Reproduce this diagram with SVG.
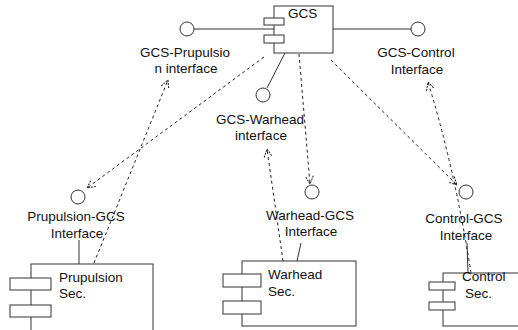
<svg xmlns="http://www.w3.org/2000/svg" width="518" height="330" viewBox="0 0 518 330">
<defs>
<marker id="arr" markerWidth="12" markerHeight="12" refX="10" refY="6" orient="auto" markerUnits="userSpaceOnUse">
<path d="M2,2 L10,6 L2,10" fill="none" stroke="#222" stroke-width="1" stroke-dasharray="2 1"/>
</marker>
<style>
.box{fill:#fff;stroke:#333;stroke-width:1}
.port{fill:#fff;stroke:#333;stroke-width:1}
.lol{fill:#fff;stroke:#333;stroke-width:1}
.sol{fill:none;stroke:#333;stroke-width:1}
.dep{fill:none;stroke:#222;stroke-width:1;stroke-dasharray:3 3;marker-end:url(#arr)}
text{font-family:"Liberation Sans",Arial,sans-serif;font-size:13.5px;fill:#111}
.c{text-anchor:middle}
</style>
</defs>
<rect width="518" height="330" fill="#fff"/>

<g id="connectors">
<line class="sol" x1="194" y1="29" x2="274" y2="29"/>
<line class="sol" x1="333" y1="29" x2="411" y2="29"/>
<line class="sol" x1="285" y1="53" x2="267" y2="88"/>
<line class="sol" x1="79" y1="240" x2="79" y2="264"/>
<line class="sol" x1="301" y1="243" x2="297" y2="261"/>
<line class="sol" x1="467" y1="243" x2="468" y2="273"/>
<path class="dep" d="M264,57 L87,188"/>
<path class="dep" d="M94,263 L168,80"/>
<path class="dep" d="M299,54 L310,184"/>
<path class="dep" d="M283,261 L267,149"/>
<path class="dep" d="M331,60 L457,185"/>
<path class="dep" d="M471,273 Q455,170 428,82"/>
</g>

<g id="gcs">
<rect class="box" x="274" y="6" width="59" height="47"/>
<rect class="port" x="264" y="18" width="20" height="7"/>
<rect class="port" x="264" y="35" width="20" height="8"/>
<text x="288" y="18">GCS</text>
</g>

<g id="gcs-prupulsion-interface">
<circle class="lol" cx="187" cy="29" r="7"/>
<text class="c" x="185" y="57">GCS-Prupulsio</text>
<text class="c" x="186" y="73">n interface</text>
</g>

<g id="gcs-control-interface">
<circle class="lol" cx="418" cy="29" r="7"/>
<text class="c" x="416" y="57">GCS-Control</text>
<text class="c" x="417" y="74">Interface</text>
</g>

<g id="gcs-warhead-interface">
<circle class="lol" cx="263" cy="95" r="7"/>
<text class="c" x="260" y="124">GCS-Warhead</text>
<text class="c" x="261" y="140">interface</text>
</g>

<g id="prupulsion-gcs-interface">
<circle class="lol" cx="78" cy="197" r="7"/>
<text class="c" x="76" y="221">Prupulsion-GCS</text>
<text class="c" x="77" y="238">Interface</text>
</g>

<g id="warhead-gcs-interface">
<circle class="lol" cx="312" cy="192" r="7"/>
<text class="c" x="310" y="220">Warhead-GCS</text>
<text class="c" x="311" y="236">Interface</text>
</g>

<g id="control-gcs-interface">
<circle class="lol" cx="466" cy="192" r="7"/>
<text class="c" x="464" y="223">Control-GCS</text>
<text class="c" x="466" y="240">Interface</text>
</g>

<g id="prupulsion-sec">
<rect class="box" x="31" y="264" width="122" height="80"/>
<rect class="port" x="10" y="278" width="41" height="12"/>
<rect class="port" x="10" y="305" width="41" height="12"/>
<text x="59" y="282">Prupulsion</text>
<text x="59" y="298">Sec.</text>
</g>

<g id="warhead-sec">
<rect class="box" x="242" y="261" width="114" height="65"/>
<rect class="port" x="223" y="274" width="38" height="13"/>
<rect class="port" x="223" y="301" width="38" height="13"/>
<text x="268" y="279">Warhead</text>
<text x="268" y="296">Sec.</text>
</g>

<g id="control-sec">
<rect class="box" x="443" y="273" width="80" height="53"/>
<rect class="port" x="429" y="282" width="26" height="8"/>
<rect class="port" x="429" y="302" width="26" height="8"/>
<text x="462" y="281">Control</text>
<text x="465" y="298">Sec.</text>
</g>
</svg>
